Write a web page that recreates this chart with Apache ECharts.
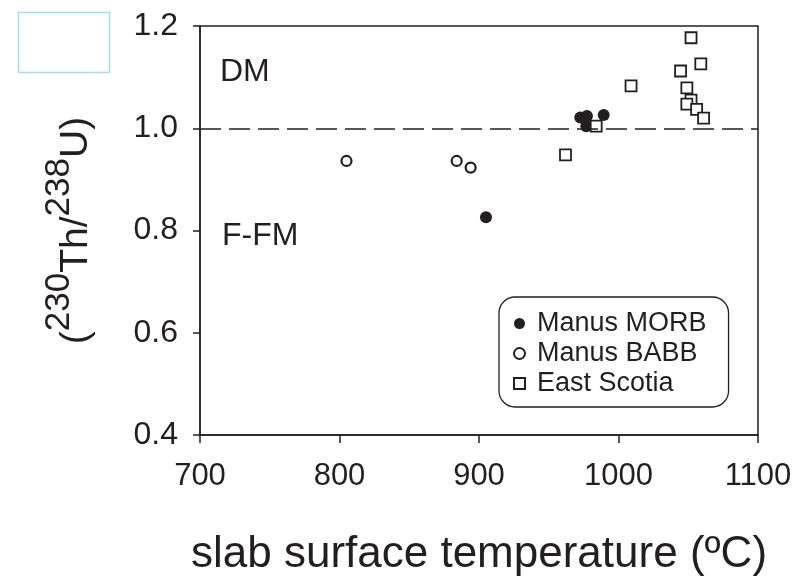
<!DOCTYPE html>
<html>
<head>
  <meta charset="utf-8">
  <script src="https://cdn.jsdelivr.net/npm/echarts@6/dist/echarts.min.js"></script>
</head>
<body style="margin:0;background:#fff;">
  <div id="main" style="width:804px;height:577px;"></div>
  <script type="text/javascript">

  // slab surface temperature (C) vs (230Th/238U)
  var morbTemp  = [905, 972.6, 977.4, 976.9, 989.4];
  var morbRatio = [0.826, 1.021, 1.024, 1.004, 1.026];

  var babbTemp  = [805, 884, 894];
  var babbRatio = [0.936, 0.936, 0.923];

  var scotiaTemp  = [962, 984, 1009, 1052, 1059, 1044.5, 1049, 1052, 1049, 1056, 1061];
  var scotiaRatio = [0.948, 1.004, 1.083, 1.177, 1.126, 1.112, 1.079, 1.055, 1.047, 1.037, 1.020];

  var seriesNames = ['Manus MORB', 'Manus BABB', 'East Scotia'];
  var refRatio = 1.0;

  function pairs(xs, ys) {
    var out = [];
    for (var i = 0; i < xs.length; i++) out.push([xs[i], ys[i]]);
    return out;
  }

  var ink = '#231f20';
  var font = 'Liberation Sans, Arial, sans-serif';

  var myChart = echarts.init(document.getElementById('main'));

  var option = {
    animation: false,
    textStyle: { fontFamily: font, color: ink },
    grid: {
      left: 200, top: 26, right: 46, bottom: 142,
      outerBoundsMode: 'none',
      show: true, borderColor: ink, borderWidth: 1.5,
      backgroundColor: 'transparent'
    },
    xAxis: {
      type: 'value',
      min: 700, max: 1100, interval: 100,
      name: 'slab surface temperature (\u00baC)',
      nameLocation: 'middle',
      nameGap: 98,
      nameTextStyle: { fontSize: 44, color: ink, fontFamily: font },
      axisLine: { lineStyle: { color: ink, width: 1.5 } },
      axisTick: { length: 8, lineStyle: { color: ink, width: 1.5 } },
      axisLabel: {
        fontSize: 31, color: ink, margin: 26, fontFamily: font,
        formatter: function (v) { return String(v); }
      },
      splitLine: { show: false }
    },
    yAxis: {
      type: 'value',
      min: 0.4, max: 1.2, interval: 0.2,
      name: '{n|(}{s|230}{n|Th/}{s|238}{n|U)}',
      nameLocation: 'middle',
      nameRotate: 90,
      nameGap: 104,
      nameTextStyle: {
        color: ink, fontFamily: font,
        rich: {
          n: { fontSize: 39, lineHeight: 54, verticalAlign: 'bottom', color: ink, fontFamily: font },
          s: { fontSize: 35, lineHeight: 35, verticalAlign: 'top', color: ink, fontFamily: font }
        }
      },
      axisLine: { lineStyle: { color: ink, width: 1.5 } },
      axisTick: { length: 7, lineStyle: { color: ink, width: 1.5 } },
      axisLabel: {
        fontSize: 32, color: ink, margin: 22, fontFamily: font,
        formatter: function (v) { return v.toFixed(1); }
      },
      splitLine: { show: false }
    },
    legend: {
      orient: 'vertical',
      left: 499, top: 297,
      data: seriesNames,
      itemWidth: 11, itemHeight: 11,
      itemGap: 3,
      padding: [13, 22, 10, 14],
      borderColor: ink, borderWidth: 1.3, borderRadius: 16,
      textStyle: { fontSize: 27, lineHeight: 24, color: ink, fontFamily: font, padding: [0, 0, 0, 7] }
    },
    graphic: [
      { type: 'rect', left: 16, top: 10, shape: { width: 91, height: 60 },
        style: { fill: 'none', stroke: '#a9dbe0', lineWidth: 1.5 } },
      { type: 'text', style: { x: 220, y: 72, text: 'DM', font: '32px ' + font, fill: ink, verticalAlign: 'middle' } },
      { type: 'text', style: { x: 222, y: 236, text: 'F-FM', font: '32px ' + font, fill: ink, verticalAlign: 'middle' } }
    ],
    series: [
      {
        name: seriesNames[0],
        type: 'scatter',
        symbol: 'circle',
        symbolSize: 12,
        itemStyle: { color: ink, opacity: 1 },
        data: pairs(morbTemp, morbRatio),
        markLine: {
          silent: true,
          symbol: 'none',
          label: { show: false },
          lineStyle: { color: ink, type: [21, 8], width: 1.5 },
          data: [{ yAxis: refRatio }]
        }
      },
      {
        name: seriesNames[1],
        type: 'scatter',
        symbol: 'circle',
        symbolSize: 10,
        itemStyle: { color: '#fff', borderColor: ink, borderWidth: 2.2, opacity: 1 },
        data: pairs(babbTemp, babbRatio)
      },
      {
        name: seriesNames[2],
        type: 'scatter',
        symbol: 'rect',
        symbolSize: 11,
        itemStyle: { color: '#fff', borderColor: ink, borderWidth: 1.8, opacity: 1 },
        data: pairs(scotiaTemp, scotiaRatio)
      }
    ]
  };

  myChart.setOption(option);

  </script>
</body>
</html>
